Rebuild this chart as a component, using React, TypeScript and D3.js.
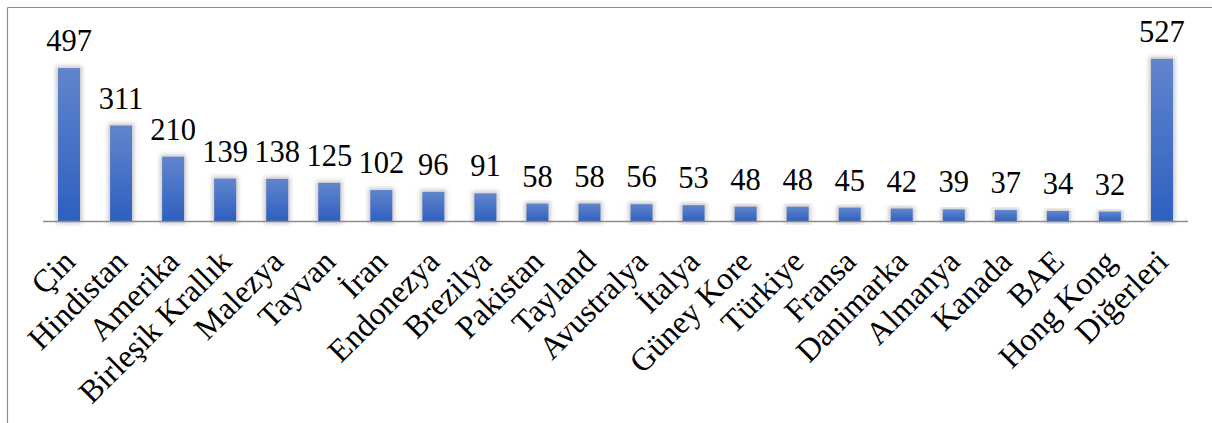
import React from "react";
import * as d3 from "d3";

const categories = [
  "Çin", "Hindistan", "Amerika", "Birleşik Krallık", "Malezya", "Tayvan", "İran",
  "Endonezya", "Brezilya", "Pakistan", "Tayland", "Avustralya", "İtalya", "Güney Kore",
  "Türkiye", "Fransa", "Danimarka", "Almanya", "Kanada", "BAE", "Hong Kong", "Diğerleri",
];
const values = [497, 311, 210, 139, 138, 125, 102, 96, 91, 58, 58, 56, 53, 48, 48, 45, 42, 39, 37, 34, 32, 527];

const W = 1212;
const H = 423;
const valueStyle: React.CSSProperties = {
  fontFamily: "Liberation Serif",
  fontSize: "30.5px",
};
const labelStyle: React.CSSProperties = {
  fontFamily: "Liberation Serif",
  fontSize: "32px",
};

export default function App() {
  const x = d3
    .scaleBand<string>()
    .domain(categories)
    .range([43, 1188])
    .paddingInner(0.577)
    .paddingOuter(0.2885);
  const baseY = 221.5;
  const y = d3.scaleLinear().domain([0, 600]).range([baseY, baseY - 185.2]);
  const bw = x.bandwidth();

  return (
    <svg
      width={W}
      height={H}
      style={{ position: "absolute", left: 0, top: 0, background: "#fff" }}
    >
      <defs>
        <linearGradient id="barGrad" x1="0" y1="0" x2="0" y2="1">
          <stop offset="0%" stopColor="#6185cc" />
          <stop offset="100%" stopColor="#2e5fbf" />
        </linearGradient>
        <filter id="shadow" x="-50%" y="-20%" width="200%" height="140%">
          <feFlood floodColor="#9a9a9a" floodOpacity="0.55" result="c" />
          <feComposite in="c" in2="SourceAlpha" operator="in" result="s" />
          <feMorphology in="s" operator="dilate" radius="1.5" result="d" />
          <feGaussianBlur in="d" stdDeviation="2.2" result="b" />
          <feMerge>
            <feMergeNode in="b" />
            <feMergeNode in="SourceGraphic" />
          </feMerge>
        </filter>
      </defs>
      <rect x={0} y={0} width={W} height={H} fill="#fff" />
      <line x1={7.5} y1={7.5} x2={W} y2={7.5} stroke="#8c8c8c" strokeWidth={1.2} />
      <line x1={7.5} y1={7.5} x2={7.5} y2={H} stroke="#8c8c8c" strokeWidth={1.2} />

      {categories.map((c, i) => {
        const x0 = x(c)!;
        const top = y(values[i]);
        return (
          <rect
            key={c}
            x={x0}
            y={top}
            width={bw}
            height={baseY - top}
            fill="url(#barGrad)"
            filter="url(#shadow)"
          />
        );
      })}

      <line x1={43} y1={baseY} x2={1188} y2={baseY} stroke="#8c8c8c" strokeWidth={1.3} />

      {categories.map((c, i) => {
        const cx = x(c)! + bw / 2;
        return (
          <text
            key={"v" + c}
            x={cx}
            y={y(values[i]) - 17}
            textAnchor="middle"
            style={valueStyle}
            fill="#000"
          >
            {values[i]}
          </text>
        );
      })}

      {categories.map((c) => {
        const cx = x(c)! + bw / 2;
        return (
          <text
            key={"l" + c}
            transform={`translate(${cx + 8},${baseY + 42}) rotate(-45)`}
            textAnchor="end"
            style={labelStyle}
            fill="#000"
          >
            {c}
          </text>
        );
      })}
    </svg>
  );
}
